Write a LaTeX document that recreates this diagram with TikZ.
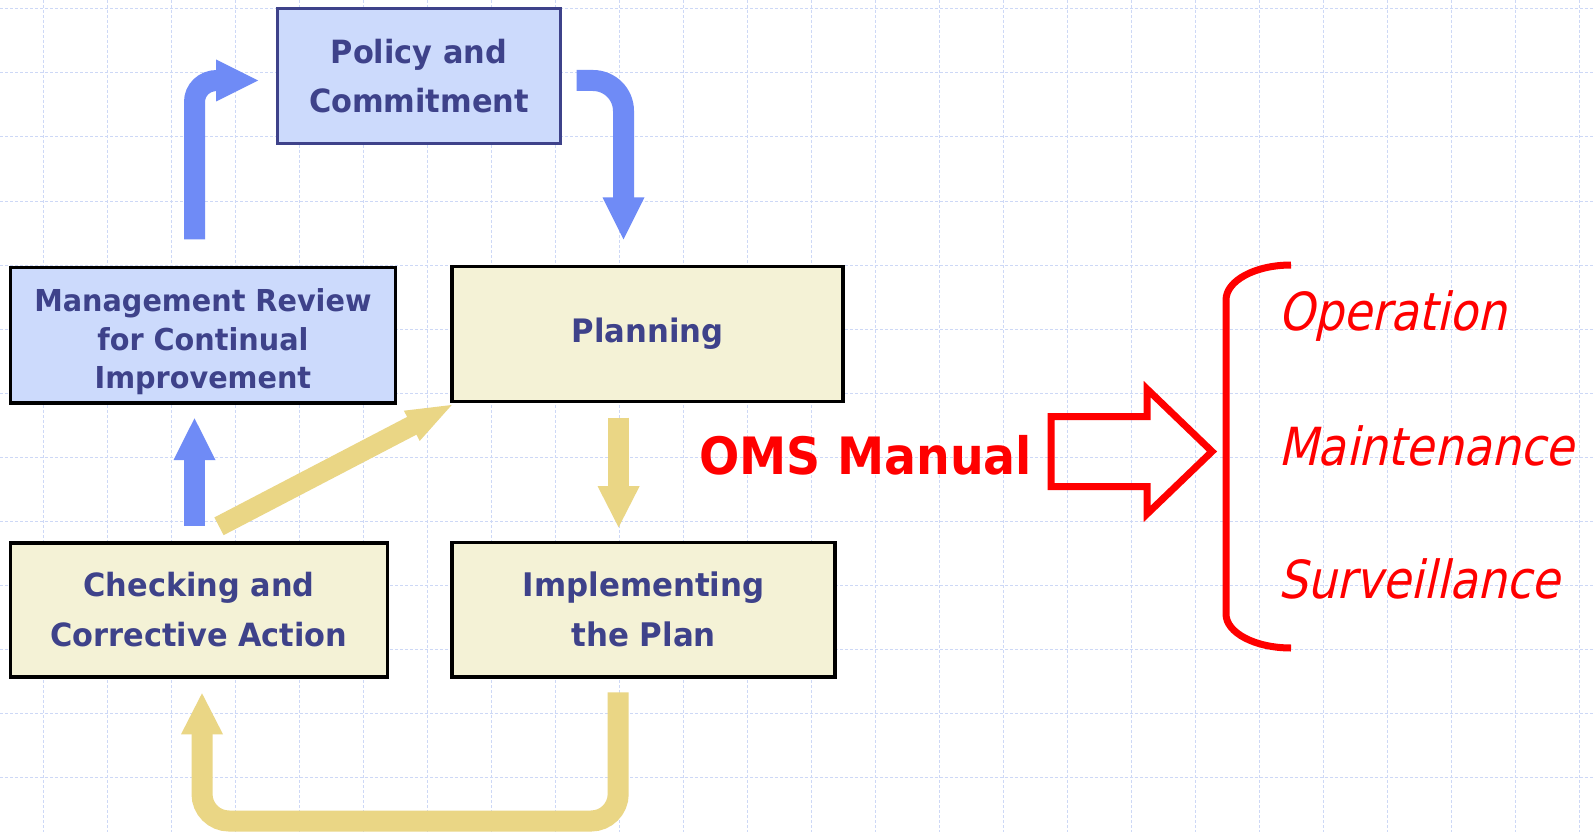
\documentclass[tikz,border=0pt]{standalone}
\usepackage{fontspec}
\newfontfamily\boxfont[FakeStretch=0.95]{DejaVu Sans}
\newfontfamily\omsfont[FakeStretch=0.92]{DejaVu Sans}
\newfontfamily\itfont[FakeStretch=0.875,FakeSlant=0.22]{DejaVu Sans}
\definecolor{arrowblue}{RGB}{111,139,246}
\definecolor{arrowbeige}{RGB}{234,214,133}
\definecolor{boxblue}{RGB}{204,218,252}
\definecolor{boxbeige}{RGB}{244,242,214}
\definecolor{navy}{RGB}{62,66,138}
\definecolor{gridcol}{RGB}{205,216,246}
\definecolor{omsred}{RGB}{255,0,0}
\tikzset{
  gridline/.style={draw=gridcol, line width=1pt, dash pattern=on 3pt off 2pt},
  box/.style={draw=black, line width=3.5pt, inner sep=0pt, rectangle},
  bluebox/.style={box, fill=boxblue},
  beigebox/.style={box, fill=boxbeige},
  boxtext/.style={inner sep=0pt, align=center, text=navy},
  blueshaft/.style={draw=arrowblue, line width=21pt},
  beigeshaft/.style={draw=arrowbeige, line width=21pt},
  bluehead/.style={fill=arrowblue},
  beigehead/.style={fill=arrowbeige},
  redline/.style={draw=omsred, line width=7pt},
  itword/.style={anchor=base west, inner sep=0pt, text=omsred, font={\itfont\fontsize{52.5pt}{60pt}\selectfont}}
}
\begin{document}
\begin{tikzpicture}[x=1pt,y=-1pt]
\useasboundingbox (0,0) rectangle (1593,832);
\fill[white] (0,0) rectangle (1593,832);
% background grid
\foreach \i in {0,...,24} \draw[gridline] ({43+64*\i},0) -- ({43+64*\i},832);
\foreach \j in {0,...,12} \draw[gridline] (0,{9+64*\j}) -- (1593,{9+64*\j});

% boxes
\node[bluebox, draw=navy, minimum width=283pt, minimum height=135pt] (policy) at (419,76) {};
\node[bluebox, minimum width=384.7pt, minimum height=135.3pt] (mgmt) at (202.9,335.2) {};
\node[beigebox, minimum width=390.6pt, minimum height=134.7pt] (planning) at (647.5,333.9) {};
\node[beigebox, minimum width=377pt, minimum height=134pt] (checking) at (199,610) {};
\node[beigebox, minimum width=383pt, minimum height=134.3pt] (implementing) at (643.7,609.7) {};

% box texts
\node[boxtext, font={\boxfont\bfseries\fontsize{32pt}{49pt}\selectfont}] (policy-t) at (policy.center) {Policy and\\Commitment};
\node[boxtext, font={\boxfont\bfseries\fontsize{30.2pt}{38.5pt}\selectfont}] (mgmt-t) at ([yshift=-6.5pt]mgmt.center) {Management Review\\for Continual\\Improvement};
\node[boxtext, font={\boxfont\bfseries\fontsize{32.3pt}{49pt}\selectfont}] (planning-t) at (planning.center) {Planning};
\node[boxtext, font={\boxfont\bfseries\fontsize{32pt}{50pt}\selectfont}] (checking-t) at (checking.center) {Checking and\\Corrective Action};
\node[boxtext, font={\boxfont\bfseries\fontsize{32.5pt}{50pt}\selectfont}] (implementing-t) at (implementing.center) {Implementing\\the Plan};

% arrow end points
\coordinate (a1s) at (194.5,239.3);
\coordinate (a1t) at (258,80.5);
\coordinate (a2s) at (576.6,80.5);
\coordinate (a2t) at (623.5,239.3);
\coordinate (a3s) at (194.5,525.7);
\coordinate (a3t) at (194.5,418.3);
\coordinate (a4s) at (219,526.3);
\coordinate (a4t) at (451.7,405);
\coordinate (a5s) at (618.6,417.7);
\coordinate (a5t) at (618.6,527.3);
\coordinate (a6s) at (618.2,692.3);
\coordinate (a6t) at (202,693.3);

% Management review -> Policy
\draw[blueshaft] (a1s) -- (194.5,102) .. controls (194.5,90.13) and (204.13,80.5) .. (217,80.5);
\fill[bluehead] (216,59.5) -- (a1t) -- (216,101.5) -- cycle;
% Policy -> Planning
\draw[blueshaft] (a2s) -- (593,80.5) .. controls (609.85,80.5) and (623.5,94.15) .. (623.5,111) -- (623.5,198.3);
\fill[bluehead] (602.5,197.3) -- (644.5,197.3) -- (a2t) -- cycle;
% Checking -> Management review
\draw[blueshaft] (a3s) -- (194.5,459);
\fill[bluehead] (173.5,460) -- (215.5,460) -- (a3t) -- cycle;
% Checking -> Planning (diagonal)
\draw[beigeshaft, line width=20pt] (a4s) -- (412.7,425.3);
\fill[beigehead] (403.9,410.7) -- (a4t) -- (419.7,440.9) -- cycle;
% Planning -> Implementing
\draw[beigeshaft] (a5s) -- (618.6,487);
\fill[beigehead] (597.5,486) -- (639.7,486) -- (a5t) -- cycle;
% Implementing -> Checking (U-turn)
\draw[beigeshaft] (a6s) -- (618.2,794) .. controls (618.2,808.9) and (606.1,821) .. (591.2,821) -- (229,821) .. controls (214.1,821) and (202,808.9) .. (202,794) -- (202,733.3);
\fill[beigehead] (181,734.3) -- (223,734.3) -- (a6t) -- cycle;

% OMS Manual
\node[anchor=base west, inner sep=0pt, text=omsred, font={\omsfont\bfseries\fontsize{51.5pt}{60pt}\selectfont}] (oms) at (699,474) {OMS Manual};
% hollow arrow
\draw[redline, miter limit=10] (1051,416.5) -- (1147,416.5) -- (1147,389) -- (1212,451.5) -- (1147,514) -- (1147,486.5) -- (1051,486.5) -- cycle;
% brace
\draw[redline] (1291,265) .. controls (1255.1,265) and (1226,280.7) .. (1226,300) -- (1226,614) .. controls (1226,632.8) and (1255.1,648) .. (1291,648);
% items
\node[itword] (operation) at (1278,330) {Operation};
\node[itword] (maintenance) at (1278,465) {Maintenance};
\node[itword] (surveillance) at (1278,598.3) {Surveillance};
\end{tikzpicture}
\end{document}
